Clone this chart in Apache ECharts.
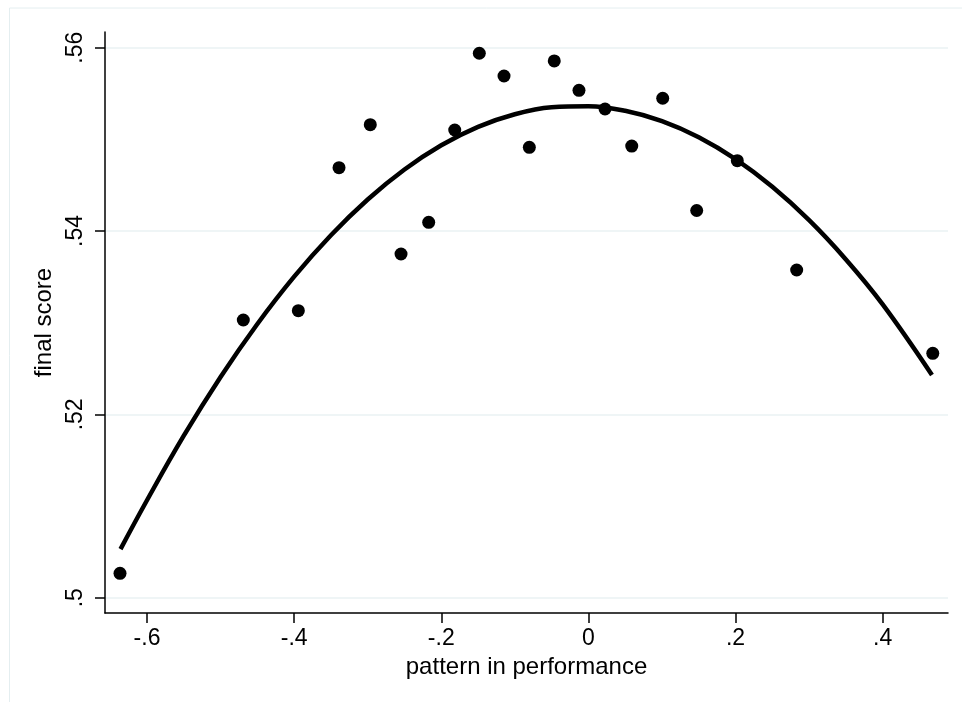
<!DOCTYPE html>
<html>
<head>
<meta charset="utf-8">
<script src="https://cdn.jsdelivr.net/npm/echarts@6/dist/echarts.min.js"></script>
<style>
  html, body { margin: 0; padding: 0; background: #ffffff; }
  #main { width: 962px; height: 702px; }
</style>
</head>
<body>
<div id="main"></div>
<script>
// scatter points
const perfX = [-0.6367, -0.4691, -0.3943, -0.3390, -0.2965, -0.2547, -0.2171, -0.1817, -0.1483, -0.1147,
  -0.0803, -0.0464, -0.0128, 0.0226, 0.0589, 0.1010, 0.1472, 0.2024, 0.2831, 0.4681]
const scoreY = [0.50266, 0.53029, 0.53131, 0.54691, 0.55160, 0.53749, 0.54095, 0.55102, 0.55939, 0.55691,
  0.54913, 0.55855, 0.55535, 0.55331, 0.54927, 0.55448, 0.54224, 0.54767, 0.53575, 0.52666]

// fitted curve, points
const fitX = [-0.636, -0.6, -0.55, -0.5, -0.45, -0.4, -0.35, -0.3, -0.25, -0.2, -0.15, -0.1,
  -0.05, 0, 0.05, 0.1, 0.15, 0.2, 0.25, 0.3, 0.35, 0.4, 0.467]
const fitY = [0.50530, 0.51063, 0.51767, 0.52408, 0.52986, 0.53502, 0.53954, 0.54344, 0.54671, 0.54935,
  0.55136, 0.55274, 0.55350, 0.55362, 0.55312, 0.55199, 0.55023, 0.54784, 0.54482, 0.54118,
  0.53690, 0.53200, 0.52430]

// tick labels
const xTicks = [-0.6, -0.4, -0.2, 0, 0.2, 0.4]
const yTicks = [0.5, 0.52, 0.54, 0.56]

const font = '"Liberation Sans", Arial, sans-serif'

// stata style: drop the leading zero
function fmt(v) {
  if (v === 0) return '0'
  const s = String(Math.round(v * 100) / 100)
  return s.replace('0.', '.')
}

const chart = echarts.init(document.getElementById('main'))

chart.setOption({
  animation: false,
  backgroundColor: '#ffffff',
  graphic: [
    {
      type: 'rect',
      shape: { x: 9.5, y: 8, width: 1000, height: 1000 },
      style: { fill: 'none', stroke: '#e4eef0', lineWidth: 1 },
      silent: true
    }
  ],
  grid: {
    left: 105,
    right: 14,
    top: 32,
    bottom: 89
  },
  xAxis: {
    type: 'value',
    min: -0.6571,
    max: 0.4888,
    name: 'pattern in performance',
    nameLocation: 'middle',
    nameGap: 42,
    nameTextStyle: { color: '#000', fontSize: 24, fontFamily: font },
    axisLine: { show: true, onZero: false, lineStyle: { color: '#000', width: 1.5 } },
    axisTick: { show: true, length: 10, customValues: xTicks, lineStyle: { color: '#000', width: 1.5 } },
    axisLabel: {
      customValues: xTicks,
      formatter: fmt,
      color: '#000',
      fontSize: 23,
      fontFamily: font,
      margin: 14
    },
    splitLine: { show: false }
  },
  yAxis: {
    type: 'value',
    min: 0.49833,
    max: 0.56171,
    name: 'final score',
    nameLocation: 'middle',
    nameGap: 42,
    nameRotate: 90,
    nameTextStyle: { color: '#000', fontSize: 24, fontFamily: font },
    axisLine: { show: true, onZero: false, lineStyle: { color: '#000', width: 1.5 } },
    axisTick: { show: true, length: 10, customValues: yTicks, lineStyle: { color: '#000', width: 1.5 } },
    axisLabel: {
      customValues: yTicks,
      formatter: fmt,
      rotate: 90,
      color: '#000',
      fontSize: 23,
      fontFamily: font,
      margin: 18
    },
    splitLine: { show: true, lineStyle: { color: '#eaf2f3', width: 1.5 } }
  },
  series: [
    {
      type: 'scatter',
      symbol: 'circle',
      symbolSize: 13,
      itemStyle: { color: '#000', opacity: 1 },
      data: perfX.map((x, i) => [x, scoreY[i]])
    },
    {
      type: 'line',
      smooth: 0.4,
      showSymbol: false,
      lineStyle: { color: '#000', width: 4.5 },
      data: fitX.map((x, i) => [x, fitY[i]])
    }
  ]
})
</script>
</body>
</html>
